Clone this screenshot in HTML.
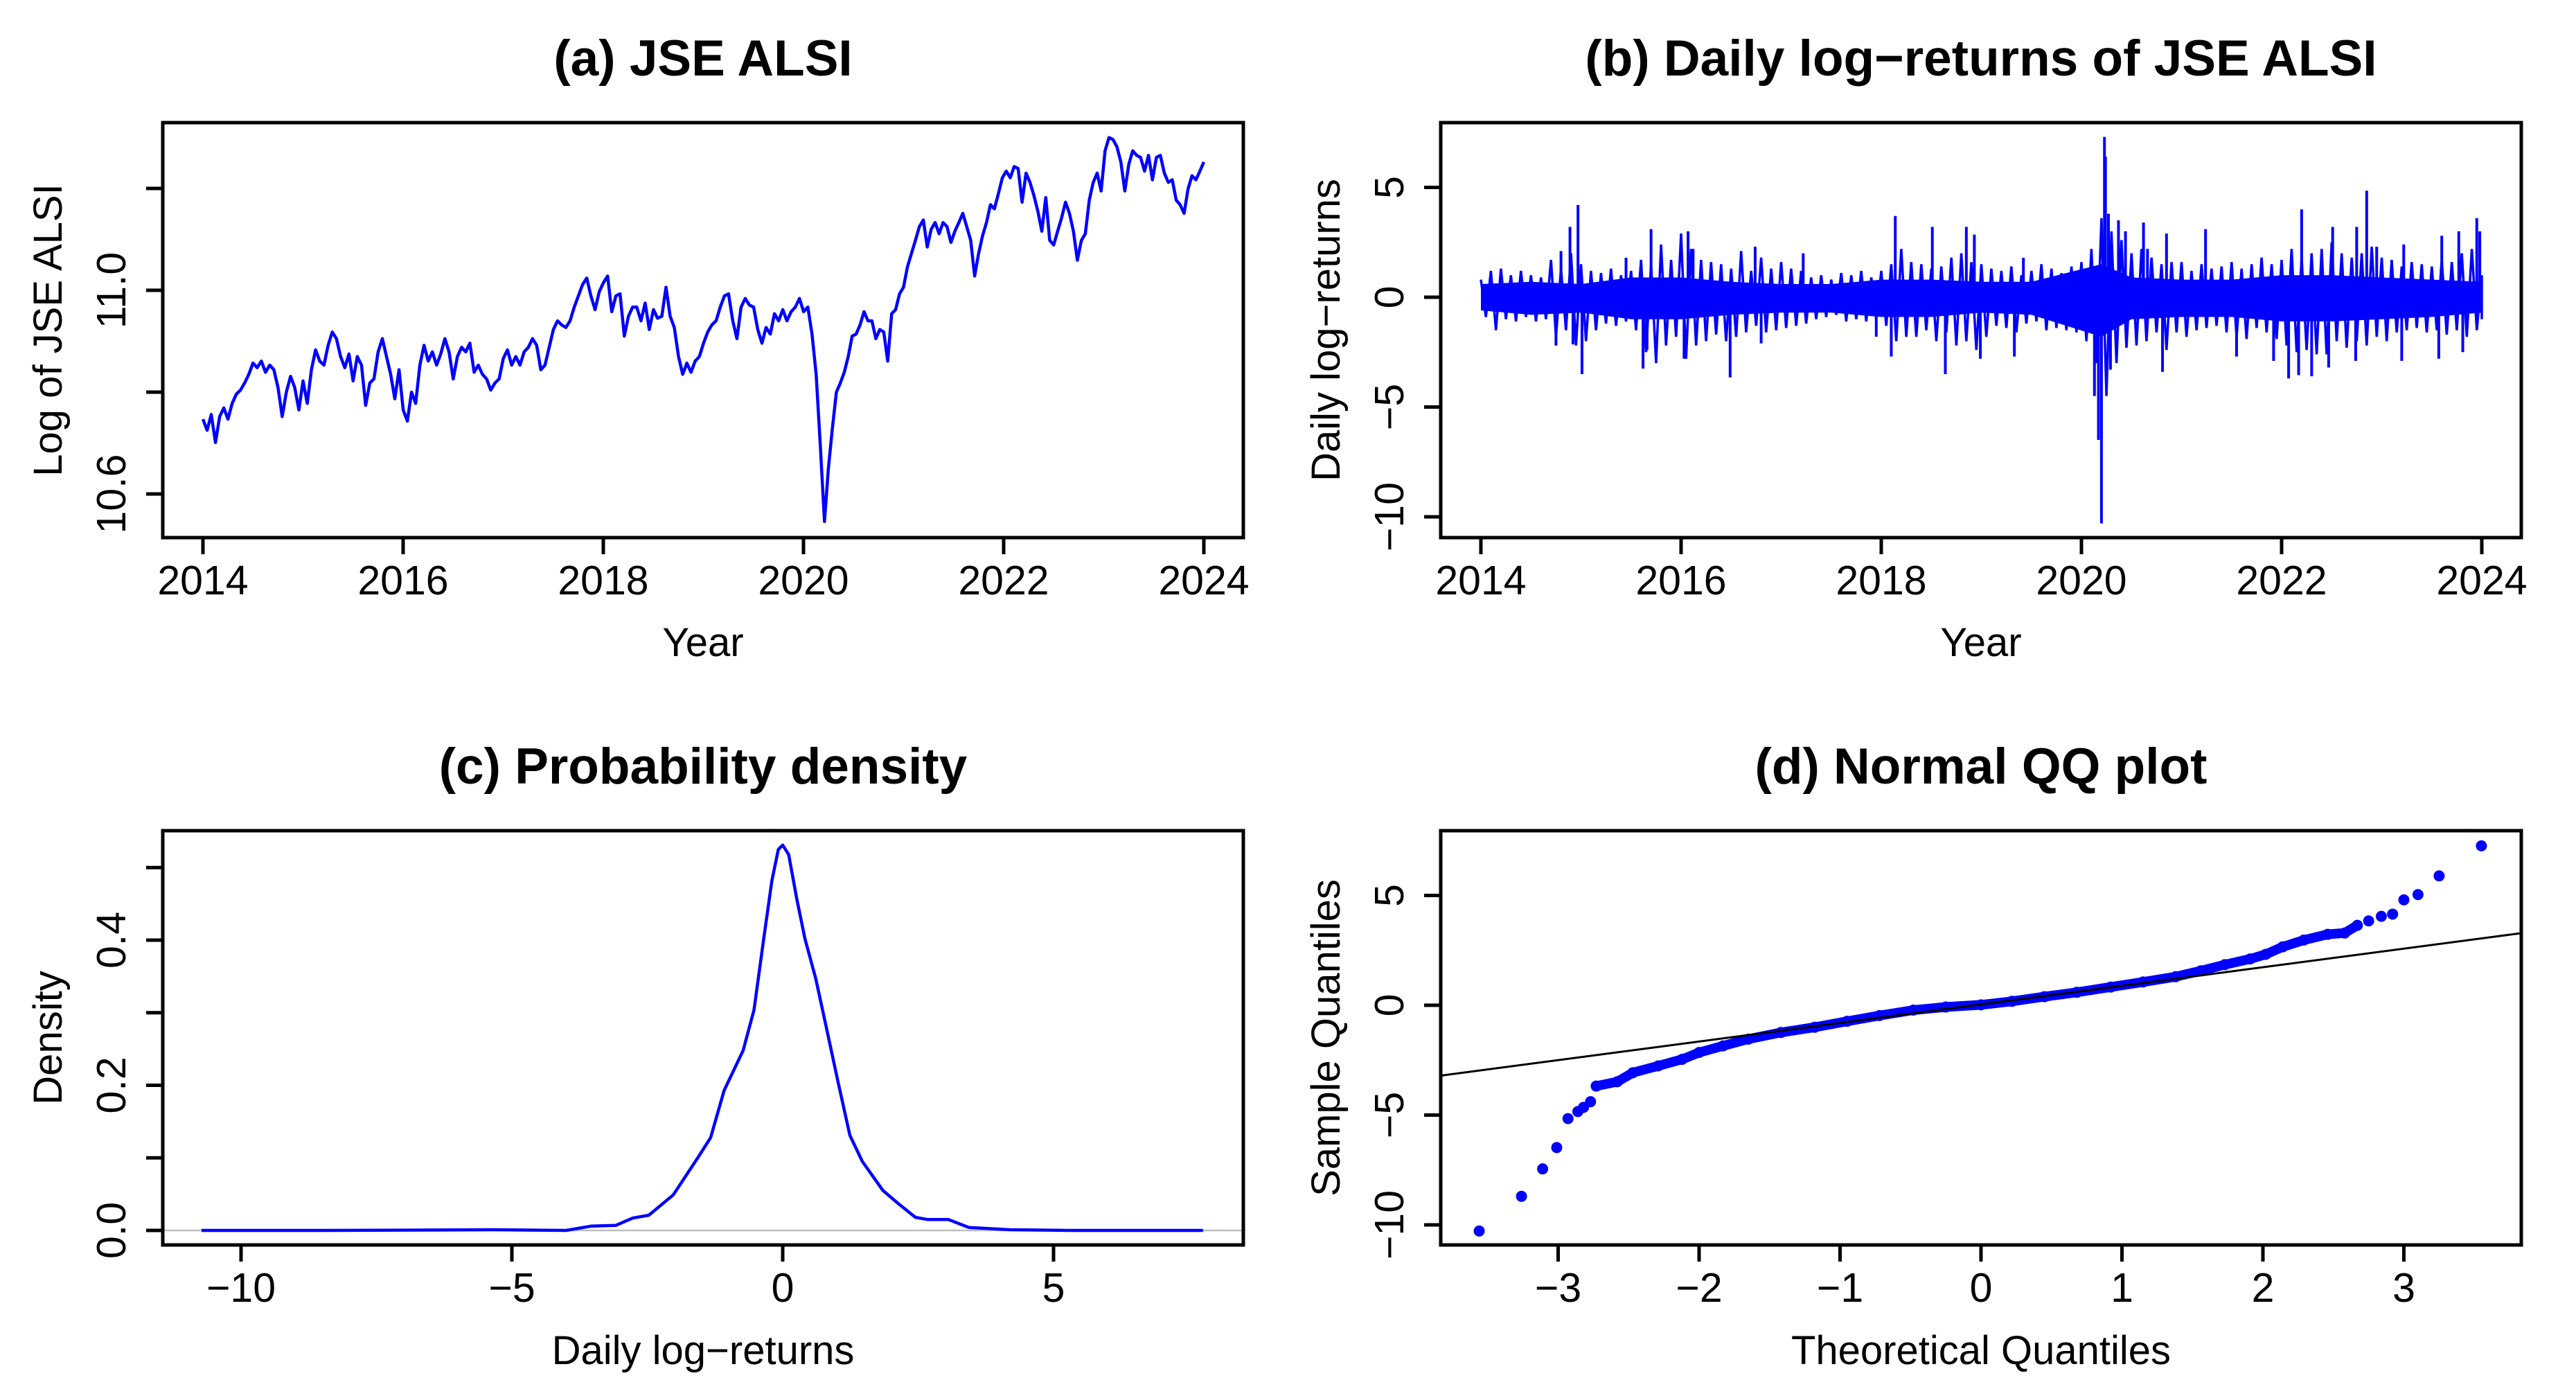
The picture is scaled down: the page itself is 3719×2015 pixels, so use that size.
<!DOCTYPE html>
<html><head><meta charset="utf-8"><style>
html,body{margin:0;padding:0;background:#fff}
svg{display:block}
text{font-family:"Liberation Sans",Arial,sans-serif;fill:#000}
</style></head><body>
<svg id="fig" xmlns="http://www.w3.org/2000/svg" width="3719" height="2015" viewBox="0 0 3719 2015"></svg>
<script>
// ---------- Panel (a) data: log JSE ALSI ----------
const alsiAnchorIdx = [0, 149, 245];
const alsiAnchorYear = [2014.0, 2020.21, 2024.0];
const alsiValues = [10.747,10.725,10.756,10.701,10.752,10.769,10.747,10.778,10.796,10.804,
10.818,10.835,10.857,10.848,10.861,10.839,10.853,10.844,10.809,10.752,
10.800,10.831,10.809,10.765,10.822,10.778,10.844,10.883,10.861,10.853,
10.892,10.918,10.905,10.870,10.848,10.875,10.822,10.870,10.853,10.774,
10.818,10.826,10.879,10.905,10.870,10.835,10.787,10.844,10.765,10.743,
10.800,10.778,10.853,10.892,10.861,10.879,10.853,10.875,10.905,10.879,
10.826,10.870,10.888,10.879,10.896,10.839,10.853,10.835,10.826,10.804,
10.818,10.826,10.866,10.883,10.853,10.870,10.853,10.879,10.888,10.905,
10.892,10.844,10.853,10.888,10.923,10.940,10.932,10.927,10.940,10.967,
10.989,11.011,11.024,10.989,10.962,10.997,11.015,11.028,10.958,10.989,
10.993,10.910,10.949,10.967,10.967,10.940,10.975,10.923,10.962,10.945,
10.949,11.006,10.949,10.927,10.870,10.835,10.857,10.839,10.861,10.870,
10.896,10.918,10.932,10.940,10.967,10.989,10.993,10.940,10.905,10.967,
10.984,10.971,10.967,10.923,10.896,10.927,10.914,10.954,10.940,10.962,
10.940,10.958,10.967,10.984,10.958,10.967,10.914,10.835,10.695,10.546,
10.651,10.730,10.800,10.818,10.839,10.870,10.910,10.914,10.932,10.958,
10.940,10.940,10.905,10.923,10.918,10.861,10.954,10.962,10.993,11.006,
11.046,11.072,11.098,11.125,11.138,11.085,11.120,11.133,11.111,11.133,
11.125,11.094,11.116,11.133,11.151,11.125,11.098,11.028,11.072,11.107,
11.133,11.168,11.160,11.190,11.221,11.234,11.221,11.243,11.239,11.173,
11.230,11.212,11.186,11.155,11.116,11.182,11.098,11.089,11.116,11.142,
11.173,11.151,11.116,11.059,11.098,11.111,11.177,11.212,11.230,11.195,
11.274,11.300,11.296,11.282,11.252,11.195,11.247,11.274,11.265,11.261,
11.234,11.265,11.217,11.261,11.265,11.230,11.212,11.217,11.177,11.168,
11.151,11.199,11.225,11.217,11.234,11.252];
const aYTicks = [10.6, 10.8, 11.0, 11.2];
const aYLabels = ["10.6", "", "11.0", ""];
const yearTicks = [2014, 2016, 2018, 2020, 2022, 2024];

// ---------- Panel (b) data: daily log-returns ----------
const envStartYear = 2014.0;
const envStep = 0.1;
const envHi = [0.8,1.2,1.3,1.0,1.2,1.0,0.9,1.7,1.3,2.0,
1.5,1.2,1.1,1.3,1.0,1.2,1.7,1.5,2.4,1.7,
2.9,2.2,1.7,1.6,1.5,1.3,2.1,1.2,1.8,1.3,
1.6,1.3,1.2,0.9,1.0,0.8,1.1,1.0,1.2,0.9,
1.2,1.5,2.2,1.6,1.5,1.3,1.4,1.8,2.0,1.6,
1.5,1.3,1.2,1.4,1.0,1.2,1.5,1.3,1.1,1.4,
1.6,2.2,3.6,3.0,2.6,2.0,2.2,1.8,1.5,1.6,
1.6,1.2,1.5,1.3,1.4,1.6,1.3,1.5,1.8,1.5,
1.7,2.2,1.8,2.0,2.2,2.5,2.0,1.8,2.0,2.3,
1.8,1.7,1.4,1.6,1.5,1.4,1.7,1.6,2.0,2.2,1.0];
const envLo = [-0.9,-1.5,-1.0,-1.1,-0.9,-1.1,-1.0,-1.8,-1.5,-2.2,
-2.0,-1.5,-1.2,-1.3,-1.1,-1.5,-2.5,-3.0,-2.2,-1.8,
-2.8,-2.2,-2.0,-1.7,-2.0,-1.8,-1.6,-1.3,-1.6,-1.5,
-1.4,-1.3,-1.2,-1.0,-0.9,-0.8,-1.1,-1.0,-1.1,-1.0,
-1.3,-2.0,-1.8,-1.8,-1.5,-2.0,-1.6,-2.2,-2.0,-2.4,
-1.8,-1.3,-1.4,-1.6,-1.2,-1.1,-1.5,-1.4,-1.5,-1.6,
-2.0,-3.0,-4.5,-3.0,-2.3,-2.2,-2.0,-1.6,-2.4,-1.6,
-1.8,-1.5,-1.4,-1.3,-1.6,-1.8,-1.9,-1.4,-1.6,-1.9,
-2.2,-2.5,-2.4,-2.6,-2.6,-2.0,-2.3,-2.0,-2.2,-1.8,
-2.0,-1.6,-1.5,-1.4,-1.6,-1.5,-1.7,-1.5,-1.8,-1.5,-1.0];
const coreYears = [2014,2014.5,2015,2015.5,2016,2016.5,2017,2017.5,2018,2018.5,2019,2019.5,2020.2,2020.5,2021,2021.5,2022,2022.5,2023,2023.5,2024];
const coreHi = [0.6,0.7,0.6,0.9,0.9,0.7,0.6,0.6,0.8,0.8,0.7,0.7,1.5,0.9,0.8,0.8,1.0,1.0,0.9,0.8,0.7];
const coreLo = [-0.6,-0.8,-0.7,-1.0,-1.0,-0.8,-0.7,-0.7,-0.9,-0.9,-0.7,-0.8,-1.8,-1.0,-0.9,-0.9,-1.1,-1.1,-1.0,-0.9,-0.7];
const spikeYears = [2014.75,2014.80,2014.89,2014.92,2014.97,2015.01,2015.45,2015.62,2015.66,2015.70,2016.03,2016.07,2016.12,2016.49,2016.74,2016.80,2017.22,2017.95,2018.10,2018.14,2018.51,2018.64,2018.85,2018.93,2018.99,2019.33,2019.42,2020.13,2020.17,2020.20,2020.23,2020.24,2020.27,2020.29,2020.37,2020.44,2020.62,2020.66,2020.81,2020.85,2021.24,2021.55,2021.92,2022.07,2022.17,2022.20,2022.30,2022.47,2022.51,2022.74,2022.75,2022.85,2022.95,2023.20,2023.22,2023.57,2023.60,2023.77,2023.81,2023.95,2023.98];
const spikeValues = [-2.2,2.1,3.2,-2.15,4.2,-3.5,1.8,-3.25,-2.4,3.1,-2.8,3.0,2.2,-3.65,2.3,-2.1,2.0,-1.8,-2.7,3.7,3.2,-3.5,3.2,2.85,-2.8,-2.7,1.8,-4.5,-6.5,-10.3,7.3,6.4,3.8,-3.3,3.5,3.0,3.4,2.2,-3.4,2.9,3.1,-2.7,-2.9,-3.7,-3.55,4.0,-3.6,-3.2,3.2,-2.9,3.2,4.85,2.3,-2.9,2.4,-2.8,2.8,3.0,-2.5,3.6,3.0];
const bYTicks = [-10, -5, 0, 5];

// ---------- Panel (c) data: density ----------
const densX = [-10.73,-8.4,-5.35,-4.0,-3.53,-3.08,-2.77,-2.47,-2.02,-1.56,-1.33,-1.08,-0.73,-0.53,-0.35,-0.2,-0.08,0,0.11,0.26,0.41,0.61,0.79,1.02,1.24,1.47,1.85,2.15,2.45,2.68,3.06,3.44,4.2,5.26,7.76];
const densY = [0,0,0.001,0,0.006,0.007,0.017,0.021,0.049,0.101,0.128,0.193,0.248,0.304,0.402,0.482,0.525,0.531,0.518,0.457,0.402,0.347,0.285,0.205,0.131,0.095,0.055,0.036,0.018,0.015,0.015,0.004,0.001,0,0];
const cXTicks = [-10, -5, 0, 5];
const cYTicks = [0, 0.1, 0.2, 0.3, 0.4, 0.5];
const cYLabels = ["0.0", "", "0.2", "", "0.4", ""];

// ---------- Panel (d) data: QQ ----------
const qqTheo = [-3.56,-3.26,-3.11,-3.01,-2.93,-2.86,-2.82,-2.77,-2.73,-2.58,-2.47,-2.29,-2.12,-2.0,-1.83,-1.65,-1.42,-1.18,-0.95,-0.72,-0.48,-0.25,0,0.22,0.45,0.68,0.92,1.15,1.38,1.56,1.73,1.91,2.02,2.14,2.29,2.46,2.58,2.67,2.75,2.84,2.92,3.0,3.1,3.25,3.55];
const qqSample = [-10.28,-8.7,-7.45,-6.48,-5.16,-4.84,-4.65,-4.39,-3.68,-3.48,-3.07,-2.76,-2.46,-2.15,-1.85,-1.54,-1.24,-1.0,-0.73,-0.47,-0.22,-0.08,0.02,0.18,0.39,0.59,0.83,1.06,1.3,1.57,1.85,2.11,2.32,2.66,2.97,3.23,3.29,3.64,3.84,4.05,4.15,4.8,5.04,5.89,7.26];
const qqLine = [0.846, 0.04]; // slope, intercept
const dXTicks = [-3, -2, -1, 0, 1, 2, 3];
const dYTicks = [-10, -5, 0, 5];

// ---------- drawing helpers ----------
const NS = "http://www.w3.org/2000/svg";
const svg = document.getElementById("fig");
function el(tag, attrs, parent) {
  const e = document.createElementNS(NS, tag);
  for (const k in attrs) e.setAttribute(k, attrs[k]);
  (parent || svg).appendChild(e);
  return e;
}
function lin(d0, d1, p0, p1) { return v => p0 + (v - d0) * (p1 - p0) / (d1 - d0); }
const MINUS = "\u2212";
function fmt(v) { return String(v).replace("-", MINUS); }

function panel(name, L, T, R, B, title, xlab, ylab) {
  const g = el("g", {});
  
  
  const rowOff = T - 177;
  const t = el("text", {x: (L + R) / 2, y: 109 + rowOff, "font-size": 73, "font-weight": "bold", "text-anchor": "middle"}, g);
  t.textContent = title;
  
  
  const xl = el("text", {x: (L + R) / 2, y: 947 + rowOff, "font-size": 58, "text-anchor": "middle"}, g);
  xl.textContent = xlab;
  
  
  const cy = (T + B) / 2, cx = L - 146;
  const yl = el("text", {x: cx, y: cy, "font-size": 58, "text-anchor": "middle", transform: `rotate(-90 ${cx} ${cy})`}, g);
  yl.textContent = ylab;
  
  
  return g;
}
function box(g, L, T, R, B) {
  const r = el("rect", {x: L, y: T, width: R - L, height: B - T, fill: "none", stroke: "#000", "stroke-width": 5}, g);
  
  
}
function xAxis(g, ticks, labels, sx, B) {
  const a = el("g", {}, g);
  
  
  el("line", {x1: sx(ticks[0]), x2: sx(ticks[ticks.length - 1]), y1: B, y2: B, stroke: "#000", "stroke-width": 5}, a);
  ticks.forEach((v, i) => {
    const tk = el("line", {x1: sx(v), x2: sx(v), y1: B, y2: B + 24, stroke: "#000", "stroke-width": 5}, a);
    
    
    if (labels[i] !== "") {
      const tl = el("text", {x: sx(v), y: B + 82, "font-size": 59, "text-anchor": "middle"}, a);
      tl.textContent = labels[i];
      
      
    }
  });
}
function yAxis(g, ticks, labels, sy, L) {
  const a = el("g", {}, g);
  
  
  el("line", {x1: L, x2: L, y1: sy(ticks[0]), y2: sy(ticks[ticks.length - 1]), stroke: "#000", "stroke-width": 5}, a);
  ticks.forEach((v, i) => {
    const tk = el("line", {x1: L - 24, x2: L, y1: sy(v), y2: sy(v), stroke: "#000", "stroke-width": 5}, a);
    
    
    if (labels[i] !== "") {
      const x = L - 54, y = sy(v);
      const tl = el("text", {x: x, y: y, "font-size": 59, "text-anchor": "middle", transform: `rotate(-90 ${x} ${y})`}, a);
      tl.textContent = labels[i];
      
      
    }
  });
}

// ---------- Panel (a) ----------
(function () {
  const L = 235, R = 1795, T = 177, B = 776;
  const g = panel("panel-a-jse-alsi", L, T, R, B, "(a) JSE ALSI", "Year", "Log of JSE ALSI");
  const sx = lin(2014, 2024, 293, 1738);
  const sy = lin(10.6, 11.0, 713, 419);
  function yearAt(i) {
    for (let k = 0; k < alsiAnchorIdx.length - 1; k++) {
      if (i <= alsiAnchorIdx[k + 1]) {
        const f = (i - alsiAnchorIdx[k]) / (alsiAnchorIdx[k + 1] - alsiAnchorIdx[k]);
        return alsiAnchorYear[k] + f * (alsiAnchorYear[k + 1] - alsiAnchorYear[k]);
      }
    }
    return alsiAnchorYear[alsiAnchorYear.length - 1];
  }
  const pts = alsiValues.map((v, i) => sx(yearAt(i)).toFixed(1) + "," + sy(v).toFixed(1)).join(" ");
  const line = el("polyline", {points: pts, fill: "none", stroke: "#0000FF", "stroke-width": 4.5, "stroke-linejoin": "round"}, g);
  
  
  xAxis(g, yearTicks, yearTicks.map(String), sx, B);
  yAxis(g, aYTicks, aYLabels, sy, L);
  box(g, L, T, R, B);
})();

// ---------- Panel (b) ----------
(function () {
  const L = 2080, R = 3640, T = 177, B = 776;
  const g = panel("panel-b-log-returns", L, T, R, B, "(b) Daily log" + MINUS + "returns of JSE ALSI", "Year", "Daily log" + MINUS + "returns");
  const sx = lin(2014, 2024, 2138, 3583);
  const sy = lin(0, 5, 429, 270.5);
  // dense core
  let d = "";
  coreYears.forEach((y, i) => { d += (i ? "L" : "M") + sx(y).toFixed(1) + "," + sy(coreHi[i]).toFixed(1); });
  for (let i = coreYears.length - 1; i >= 0; i--) d += "L" + sx(coreYears[i]).toFixed(1) + "," + sy(coreLo[i]).toFixed(1);
  d += "Z";
  const core = el("path", {d: d, fill: "#0000FF", stroke: "none"}, g);
  
  
  // zigzag envelope of daily swings
  const zz = [];
  envHi.forEach((v, i) => {
    const y = envStartYear + i * envStep;
    zz.push(sx(y).toFixed(1) + "," + sy(v).toFixed(1));
    if (i < envLo.length - 1) zz.push(sx(y + envStep / 2).toFixed(1) + "," + sy(envLo[i]).toFixed(1));
    else zz.push(sx(y).toFixed(1) + "," + sy(envLo[i]).toFixed(1));
  });
  const zl = el("polyline", {points: zz.join(" "), fill: "none", stroke: "#0000FF", "stroke-width": 3.5}, g);
  
  
  spikeYears.forEach((y, i) => {
    const s = el("line", {x1: sx(y), x2: sx(y), y1: sy(0), y2: sy(spikeValues[i]), stroke: "#0000FF", "stroke-width": 4}, g);
    
    
  });
  xAxis(g, yearTicks, yearTicks.map(String), sx, B);
  yAxis(g, bYTicks, bYTicks.map(fmt), sy, L);
  box(g, L, T, R, B);
})();

// ---------- Panel (c) ----------
(function () {
  const L = 235, R = 1795, T = 1199, B = 1797;
  const g = panel("panel-c-density", L, T, R, B, "(c) Probability density", "Daily log" + MINUS + "returns", "Density");
  const sx = lin(-10, 5, 348, 1521);
  const sy = lin(0, 0.4, 1776, 1357);
  const zl = el("line", {x1: L, x2: R, y1: sy(0), y2: sy(0), stroke: "#bebebe", "stroke-width": 2.5}, g);
  
  
  const pts = densX.map((x, i) => sx(x).toFixed(1) + "," + sy(densY[i]).toFixed(1)).join(" ");
  const line = el("polyline", {points: pts, fill: "none", stroke: "#0000FF", "stroke-width": 4.5, "stroke-linejoin": "round"}, g);
  
  
  xAxis(g, cXTicks, cXTicks.map(fmt), sx, B);
  yAxis(g, cYTicks, cYLabels, sy, L);
  box(g, L, T, R, B);
})();

// ---------- Panel (d) ----------
(function () {
  const L = 2080, R = 3640, T = 1199, B = 1797;
  const g = panel("panel-d-qq-plot", L, T, R, B, "(d) Normal QQ plot", "Theoretical Quantiles", "Sample Quantiles");
  const sx = lin(0, 1, 2860, 3063.5);
  const sy = lin(0, 5, 1451, 1292.5);
  const body = [];
  qqTheo.forEach((q, i) => { if (Math.abs(q) <= 2.74) body.push(sx(q).toFixed(1) + "," + sy(qqSample[i]).toFixed(1)); });
  const bl = el("polyline", {points: body.join(" "), fill: "none", stroke: "#0000FF", "stroke-width": 14, "stroke-linejoin": "round", "stroke-linecap": "round"}, g);
  
  
  qqTheo.forEach((q, i) => {
    const c = el("circle", {cx: sx(q), cy: sy(qqSample[i]), r: 8, fill: "#0000FF"}, g);
    
    
  });
  const qL = -3.84, qR = 3.84;
  const rl = el("line", {x1: sx(qL), x2: sx(qR), y1: sy(qqLine[1] + qqLine[0] * qL), y2: sy(qqLine[1] + qqLine[0] * qR), stroke: "#000", "stroke-width": 3}, g);
  
  
  xAxis(g, dXTicks, dXTicks.map(fmt), sx, B);
  yAxis(g, dYTicks, dYTicks.map(fmt), sy, L);
  box(g, L, T, R, B);
})();
</script>
</body></html>
